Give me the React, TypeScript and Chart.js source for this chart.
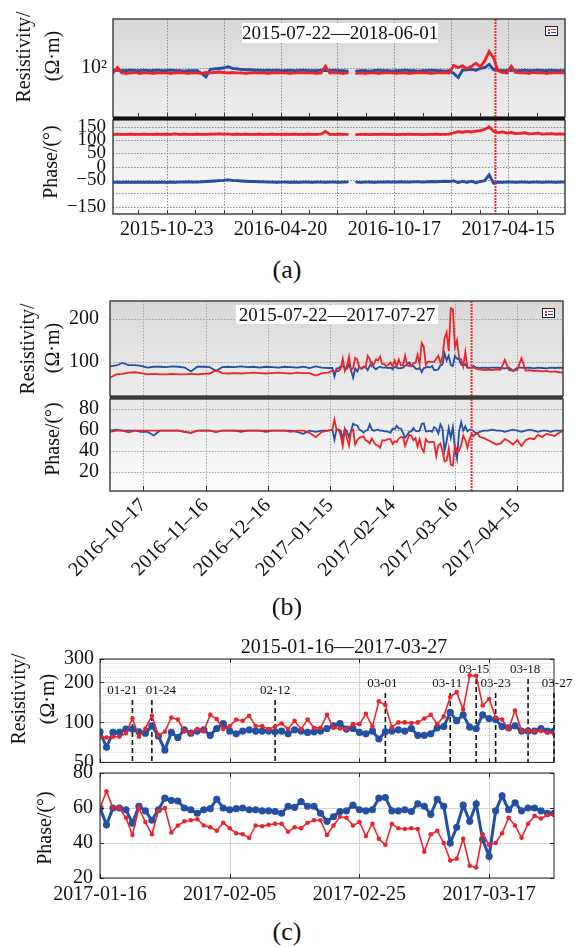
import React, { useEffect, useRef } from 'react';
import { Chart, registerables } from 'chart.js';

Chart.register(...registerables);

const W = 575;
const RED = '#e8262b';
const BLUE = '#2350a3';
const SERIF = "'Liberation Serif', 'Times New Roman', Times, serif";
const DAY_MS = 86400000;
const dn = (s: string) => {
  const [y, m, d] = s.split('-').map(Number);
  return Date.UTC(y, m - 1, d) / DAY_MS;
};
const fmt = (n: number) => new Date(Math.round(n) * DAY_MS).toISOString().slice(0, 10);
const stepDays = (start: string, step: number, count: number) =>
  Array.from({ length: count }, (_, i) => dn(start) + i * step);

// ---------------- Panel (a) data: weekly samples from 2015-07-30 ----------------
const aStart = '2015-07-30';
const aStepDays = 7;
const aRange = ['2015-07-30', '2017-07-14'];
const aEvent = '2017-03-26';
const aLabelDates = ['2015-10-23', '2016-04-20', '2016-10-17', '2017-04-15'];
const aResRed: (number | null)[] = [
  89, 101, 89, 88, 89, 90, 88, 89, 89, 88, 89, 89,
  89, 88, 89, 90, 89, 88, 89, 89, 88, 90, 89,
  90, 91, 90, 89, 90, 89, 89, 88, 89, 90, 89, 89, 88,
  89, 89, 90, 89, 88, 89, 89, 90, 89, 89, 88, 89, 104, 89, 90, 89, 88, 89,
  null,
  88, 89, 88, 89, 89, 88, 89, 90, 89, 88, 89, 89, 88, 89, 90, 89, 89, 88, 89, 89, 90, 89,
  106, 101, 105, 98, 104, 112, 103, 118, 147, 127,
  94, 90, 89, 104, 90, 89, 89, 88, 90, 89, 89, 88, 89, 89, 90, 89,
];
const aResBlue: (number | null)[] = [
  94, 95, 94, 94, 95, 94, 94, 95, 94, 94, 95, 94,
  94, 95, 94, 94, 93, 94, 94, 94, 88, 81, 97,
  98, 99, 100, 103, 99, 98, 97, 96, 96, 95, 95, 94, 95,
  94, 95, 94, 94, 95, 94, 94, 95, 94, 94, 94, 95, 94, 94, 95, 94, 94, 93,
  null,
  93, 94, 94, 93, 94, 95, 94, 94, 93, 94, 94, 95, 94, 94, 93, 94, 94, 95, 94, 94, 93, 94,
  88, 80, 95, 96, 97, 95, 99, 101, 109, 96,
  95, 94, 94, 95, 94, 94, 95, 94, 94, 95, 94, 94, 95, 94, 94, 94,
];
const aPhRed: (number | null)[] = [
  121, 122, 121, 121, 122, 121, 121, 122, 121, 121, 122, 121,
  122, 121, 123, 121, 122, 121, 121, 122, 121, 121, 122,
  122, 123, 122, 122, 121, 122, 121, 122, 121, 121, 122, 121, 121,
  122, 121, 121, 122, 121, 122, 121, 121, 122, 121, 121, 122, 132, 121, 121, 122, 121, 121,
  null,
  120, 121, 121, 120, 121, 121, 122, 121, 121, 120, 121, 121, 122, 121, 121, 120, 121, 121, 122, 121, 121, 122,
  127, 131, 129, 132, 130, 133, 135, 140, 149, 133,
  128, 130, 126, 128, 124, 125, 127, 123, 124, 126, 122, 123, 124, 122, 123, 122,
];
const aPhBlue: (number | null)[] = [
  -59, -58, -59, -58, -59, -59, -58, -59, -58, -59, -59, -58,
  -59, -58, -59, -58, -58, -57, -58, -58, -57, -56, -55,
  -54, -53, -52, -50, -52, -53, -54, -55, -56, -56, -57, -57, -58,
  -58, -59, -58, -58, -59, -58, -59, -58, -58, -59, -58, -58, -59, -58, -58, -59, -58, -58,
  null,
  -58, -59, -58, -58, -59, -58, -58, -57, -58, -58, -57, -58, -58, -57, -57, -58, -57, -56, -57, -56, -55, -56,
  -54, -60, -56, -59, -55, -61, -56, -53, -31, -62,
  -58, -59, -58, -58, -59, -58, -58, -59, -58, -58, -59, -58, -58, -59, -58, -58,
];
const aResTicks = [100];
const aResLabels = ['10²'];
const aPhaseTicks = [-150, -100, -50, 0, 50, 100, 150];
const aPhaseLabels = ['−150', '', '−50', '0', '50', '100', '150'];

// ---------------- Panel (c) data: daily 2017-01-16 .. 2017-03-27 ----------------
const cStart = '2017-01-16';
const cRange = ['2017-01-16', '2017-03-27'];
const cLabelDates = ['2017-01-16', '2017-02-05', '2017-02-25', '2017-03-17'];
const cResRed = [
  78, 77, 78, 78, 83, 107, 78, 90, 112, 80,
  85, 109, 105, 86, 83, 89, 86, 114, 106, 89,
  94, 105, 103, 112, 94, 94, 89, 93, 98, 89,
  103, 89, 105, 91, 91, 114, 91, 90, 89, 97,
  97, 116, 93, 144, 135, 92, 100, 100, 99, 100,
  107, 114, 97, 111, 155, 169, 125, 226, 224, 134,
  150, 109, 105, 89, 123, 86, 86, 86, 86, 84, 82,
];
const cResBlue = [
  85, 65, 84, 84, 89, 89, 85, 83, 94, 79,
  62, 84, 77, 88, 83, 86, 88, 80, 90, 98,
  86, 82, 86, 88, 86, 86, 86, 85, 86, 82,
  88, 86, 84, 85, 86, 90, 94, 98, 89, 90,
  84, 82, 86, 75, 85, 86, 88, 86, 90, 80,
  80, 82, 91, 93, 119, 103, 114, 92, 90, 114,
  107, 105, 93, 91, 94, 86, 86, 86, 90, 86, 86,
];
const cPhRed = [
  60, 69.6, 60, 60, 54.4, 44.6, 60, 52, 45, 58.4,
  60, 46, 50, 52.4, 53, 53.6, 50, 49, 47, 51.6,
  48.4, 45.6, 45, 43, 50, 49.6, 50.4, 51, 51, 46.4,
  49, 48.4, 51.6, 53, 53, 44.6, 50, 55, 54.4, 50,
  52, 44, 51, 42.4, 39, 51, 48.4, 48, 48.4, 48,
  35, 45, 47, 40, 30, 31, 42.4, 27, 26, 45,
  39, 40, 45.6, 54.4, 50, 43, 51, 55.6, 54, 56, 56,
];
const cPhBlue = [
  60, 50.4, 60, 60, 59, 51.4, 61, 58.4, 53, 59,
  65.6, 64.4, 64, 60, 59, 57, 59, 59.6, 65, 60,
  59, 59.6, 60, 59, 59, 58.4, 58.4, 58, 57, 61,
  60.4, 63.6, 61, 61, 57, 52.4, 55, 58, 58.4, 61.6,
  59, 58.4, 59, 65.6, 66, 58.4, 58.4, 59, 58, 62.4,
  61, 56.4, 65, 61, 40, 49, 61.6, 52.4, 62.4, 42,
  32.4, 58.4, 67, 59, 63, 58.4, 60, 60, 58.4, 57, 57,
];
const cResTicks = [50, 100, 200, 300];
const cResMinor = [60, 70, 80, 90, 120, 140, 160, 180, 220, 240, 260, 280];
const cPhaseTicks = [20, 40, 60, 80];
const cEventDates = ['2017-01-21', '2017-01-24', '2017-02-12', '2017-03-01', '2017-03-11', '2017-03-15', '2017-03-18', '2017-03-23', '2017-03-27'];
const cEventLabels = ['01-21', '01-24', '02-12', '03-01', '03-11', '03-15', '03-23', '03-18', '03-27'];

// ---------------- Panel (b) data ----------------
const bRange = ['2016-10-01', '2017-05-07'];
const bEvent = '2017-03-24';
const bLabelDates = ['2016-10-17', '2016-11-16', '2016-12-16', '2017-01-15', '2017-02-14', '2017-03-16', '2017-04-15'];
const bPreStart = '2016-10-01'; // every 3 days
const bPreResRed = [62, 70, 71, 74, 75, 73, 70, 71, 70, 70, 71, 70, 70, 71, 70, 71, 72, 80, 73, 72, 73, 72, 73, 74, 73, 72, 73, 74, 73, 72, 74, 73, 73, 67, 73, 74];
const bPreResBlue = [89, 91, 97, 92, 92, 90, 86, 88, 88, 87, 89, 88, 86, 77, 88, 88, 87, 78, 87, 88, 87, 89, 87, 88, 86, 88, 87, 86, 88, 87, 86, 88, 85, 89, 86, 85];
const bPrePhRed = [58, 59, 59, 57.5, 59, 59, 59, 59, 59, 59, 59, 59, 58, 57, 59, 59, 59, 58, 59, 59, 59, 59, 59, 59, 59, 59, 59, 59, 59, 58, 59, 59, 57, 53, 58, 59];
const bPrePhBlue = [59, 60, 59, 59, 59, 58, 58, 54.5, 59, 59, 59, 59, 58, 57, 59, 59, 59, 58, 59, 59, 59, 58, 59, 59, 59, 58, 59, 59, 59, 59, 58, 56, 59, 58, 59, 59];
const bPostStart = '2017-03-28'; // every 2 days
const bPostResRed = [82, 80, 81, 80, 82, 81, 104, 80, 79, 80, 108, 79, 80, 78, 79, 77, 78, 76, 77, 75, 74];
const bPostResBlue = [85, 86, 85, 86, 86, 85, 84, 86, 78, 86, 86, 85, 86, 84, 86, 85, 84, 86, 85, 86, 85];
const bPostPhRed = [53, 52, 50, 48, 46, 47, 51, 49, 46, 50, 44.6, 50, 52, 51, 55, 53, 56, 55, 54, 57, 59];
const bPostPhBlue = [58, 59, 59, 60, 59, 59, 58, 59, 60, 59, 58, 59, 60, 59, 58, 59, 59, 58, 59, 59, 59];
const bResTicks = [100, 200];
const bPhaseTicks = [20, 40, 60, 80];

// ---------------- layout constants (not data) ----------------
const cMarkerLayout = [
  { dy: 32, dx: -10 }, { dy: 32, dx: 9 }, { dy: 32, dx: 0 }, { dy: 25, dx: -3 }, { dy: 25, dx: -3 },
  { dy: 11, dx: -2 }, { dy: 25, dx: 0 }, { dy: 11, dx: -3 }, { dy: 25, dx: 3 },
];

// ---------------- plugin ----------------
const decoPlugin: any = {
  id: 'deco',
  beforeDraw(chart: any, _a: any, o: any) {
    const { ctx, chartArea: ca } = chart;
    if (!o || !o.bg) return;
    const g = ctx.createLinearGradient(0, ca.top, 0, ca.bottom);
    g.addColorStop(0, o.bg[0]);
    g.addColorStop(1, o.bg[1]);
    ctx.save();
    ctx.fillStyle = g;
    ctx.fillRect(ca.left, ca.top, ca.right - ca.left, ca.bottom - ca.top);
    ctx.restore();
  },
  beforeDatasetsDraw(chart: any, _a: any, o: any) {
    const { ctx, chartArea: ca, scales } = chart;
    ctx.save();
    for (const g of o.grids || []) {
      ctx.strokeStyle = g.color;
      ctx.lineWidth = g.width ?? 1;
      ctx.setLineDash(g.dash ?? []);
      for (const v of g.values) {
        ctx.beginPath();
        if (g.axis === 'x') {
          const p = Math.round(scales.x.getPixelForValue(v)) + 0.5;
          ctx.moveTo(p, ca.top);
          ctx.lineTo(p, ca.bottom);
        } else {
          const p = Math.round(scales.y.getPixelForValue(v)) + 0.5;
          ctx.moveTo(ca.left, p);
          ctx.lineTo(ca.right, p);
        }
        ctx.stroke();
      }
    }
    if (o.markers) {
      const m = o.markers;
      ctx.font = `${m.size}px ${SERIF}`;
      ctx.textAlign = 'center';
      ctx.textBaseline = 'middle';
      m.items.forEach((it: any) => {
        const p = scales.x.getPixelForValue(it.x);
        ctx.setLineDash(m.dash);
        ctx.lineWidth = m.width;
        ctx.strokeStyle = m.color;
        ctx.beginPath();
        ctx.moveTo(p, ca.top + it.dy + m.gap);
        ctx.lineTo(p, ca.bottom);
        ctx.stroke();
        ctx.fillStyle = m.color;
        ctx.fillText(it.text, p + it.dx, ca.top + it.dy);
      });
    }
    ctx.restore();
  },
  afterDatasetsDraw(chart: any, _a: any, o: any) {
    const { ctx, chartArea: ca, scales } = chart;
    ctx.save();
    for (const l of o.vlines || []) {
      const p = scales.x.getPixelForValue(l.x);
      ctx.strokeStyle = l.color;
      ctx.lineWidth = l.width;
      ctx.setLineDash(l.dash || []);
      ctx.beginPath();
      ctx.moveTo(p, ca.top);
      ctx.lineTo(p, ca.bottom);
      ctx.stroke();
    }
    ctx.setLineDash([]);
    for (const t of o.ticks || []) {
      ctx.strokeStyle = t.color;
      ctx.lineWidth = t.width ?? 1;
      for (const v of t.values) {
        ctx.beginPath();
        if (t.axis === 'x') {
          const p = Math.round(scales.x.getPixelForValue(v)) + 0.5;
          if (t.edges.includes('bottom')) { ctx.moveTo(p, ca.bottom); ctx.lineTo(p, ca.bottom - t.len); }
          if (t.edges.includes('top')) { ctx.moveTo(p, ca.top); ctx.lineTo(p, ca.top + t.len); }
        } else {
          const p = Math.round(scales.y.getPixelForValue(v)) + 0.5;
          if (t.edges.includes('left')) { ctx.moveTo(ca.left, p); ctx.lineTo(ca.left + t.len, p); }
          if (t.edges.includes('right')) { ctx.moveTo(ca.right, p); ctx.lineTo(ca.right - t.len, p); }
        }
        ctx.stroke();
      }
    }
    if (o.border) {
      ctx.strokeStyle = o.border.color;
      ctx.lineWidth = o.border.width;
      ctx.strokeRect(ca.left, ca.top, ca.right - ca.left, ca.bottom - ca.top);
    }
    ctx.restore();
  },
};

type Area = { left: number; right: number; top: number; bottom: number };

function line(days: number[], vals: (number | null)[], color: string, width: number, radius: number) {
  return {
    data: days.map((x, i) => ({ x, y: vals[i] })),
    borderColor: color,
    backgroundColor: color,
    pointBackgroundColor: color,
    borderWidth: width,
    pointRadius: radius,
    pointHoverRadius: radius,
    pointBorderWidth: 0,
    tension: 0,
    spanGaps: false,
    fill: false,
  };
}

type PlotSpec = { top: number; height: number; config: any };

function makePlot(p: {
  canvasTop: number; canvasBottom: number; area: Area;
  xMin: number; xMax: number; xTicks?: number[]; xFmt?: (v: number) => string; rot?: number; xPad?: number;
  yType: 'linear' | 'logarithmic'; yMin: number; yMax: number; yTicks: number[]; yLabels: string[]; yPad: number; yFont?: number;
  datasets: any[]; deco: any;
}): PlotSpec {
  const padBottom = p.canvasBottom - p.area.bottom;
  const config = {
    type: 'line',
    data: { datasets: p.datasets },
    plugins: [decoPlugin],
    options: {
      responsive: false,
      maintainAspectRatio: false,
      animation: false,
      devicePixelRatio: 1,
      events: [],
      layout: { padding: { top: p.area.top - p.canvasTop, right: W - p.area.right, left: 0, bottom: 0 } },
      plugins: { legend: { display: false }, tooltip: { enabled: false }, title: { display: false }, deco: p.deco },
      scales: {
        x: {
          type: 'linear', min: p.xMin, max: p.xMax,
          grid: { display: false, drawTicks: false }, border: { display: false },
          afterFit: (s: any) => { s.height = padBottom; s.paddingLeft = 0; s.paddingRight = 0; s.paddingTop = 0; s.paddingBottom = 0; },
          afterBuildTicks: (s: any) => { s.ticks = (p.xTicks || [p.xMin]).map((v) => ({ value: v })); },
          ticks: {
            display: !!p.xTicks, autoSkip: false, maxRotation: p.rot ?? 0, minRotation: p.rot ?? 0,
            padding: p.xPad ?? 4, color: '#111', font: { family: SERIF, size: 20 },
            callback: (v: number) => (p.xFmt ? p.xFmt(v) : ''),
          },
        },
        y: {
          type: p.yType, min: p.yMin, max: p.yMax,
          grid: { display: false, drawTicks: false }, border: { display: false },
          afterFit: (s: any) => { s.width = p.area.left; s.paddingTop = 0; s.paddingBottom = 0; s.paddingLeft = 0; s.paddingRight = 0; },
          afterBuildTicks: (s: any) => { s.ticks = p.yTicks.map((v) => ({ value: v })); },
          ticks: {
            autoSkip: false, padding: p.yPad, color: '#111', font: { family: SERIF, size: p.yFont ?? 20 },
            callback: (_v: number, i: number) => p.yLabels[i],
          },
        },
      },
    },
  };
  return { top: p.canvasTop, height: p.canvasBottom - p.canvasTop, config };
}

function Plot({ spec }: { spec: PlotSpec }) {
  const ref = useRef<HTMLCanvasElement>(null);
  useEffect(() => {
    const chart = new Chart(ref.current as HTMLCanvasElement, spec.config);
    return () => chart.destroy();
  }, []);
  return <canvas ref={ref} width={W} height={spec.height} style={{ position: 'absolute', left: 0, top: spec.top, width: W, height: spec.height }} />;
}

const VText = ({ cx, cy, text, size = 20 }: { cx: number; cy: number; text: string; size?: number }) => (
  <div style={{ position: 'absolute', left: cx, top: cy, transform: 'translate(-50%, -50%) rotate(-90deg)', whiteSpace: 'nowrap', font: `${size}px ${SERIF}`, lineHeight: 1, color: '#111' }}>{text}</div>
);
const HText = ({ cx, cy, text, size = 20 }: { cx: number; cy: number; text: string; size?: number }) => (
  <div style={{ position: 'absolute', left: cx, top: cy, transform: 'translate(-50%, -50%)', whiteSpace: 'nowrap', font: `${size}px ${SERIF}`, lineHeight: 1, color: '#111' }}>{text}</div>
);
const LegendIcon = ({ left, top }: { left: number; top: number }) => (
  <div style={{ position: 'absolute', left, top, width: 13, height: 10, border: '1px solid #222', background: '#fff', boxSizing: 'border-box' }}>
    <div style={{ position: 'absolute', left: 1.5, top: 1.5, width: 2, height: 2, background: RED }} />
    <div style={{ position: 'absolute', left: 5, top: 2, width: 5, height: 1, background: RED }} />
    <div style={{ position: 'absolute', left: 1.5, top: 4.5, width: 2, height: 2, background: BLUE }} />
    <div style={{ position: 'absolute', left: 5, top: 5, width: 5, height: 1, background: BLUE }} />
  </div>
);

// ---------------- build series ----------------
const aDays = stepDays(aStart, aStepDays, aResRed.length);
const cDays = stepDays(cStart, 1, cResRed.length);
const bDays = [
  ...stepDays(bPreStart, 3, bPreResRed.length),
  ...cDays,
  ...stepDays(bPostStart, 2, bPostResRed.length),
];
const bResRed = [...bPreResRed, ...cResRed, ...bPostResRed];
const bResBlue = [...bPreResBlue, ...cResBlue, ...bPostResBlue];
const bPhRed = [...bPrePhRed, ...cPhRed, ...bPostPhRed];
const bPhBlue = [...bPrePhBlue, ...cPhBlue, ...bPostPhBlue];

const GRID_AB = '#8a8a8a';
const aGrid = stepDays('2015-10-23', 90, 7);
const aMinor = stepDays('2015-09-08', 45, 15);
const bGrid = bLabelDates.map(dn);
const cGrid = cLabelDates.map(dn);

const A_TOP: Area = { left: 113, right: 565, top: 19, bottom: 117 };
const A_BOT: Area = { left: 113, right: 565, top: 120, bottom: 214 };
const B_TOP: Area = { left: 110, right: 563, top: 301, bottom: 396 };
const B_BOT: Area = { left: 110, right: 563, top: 399, bottom: 491 };
const C_TOP: Area = { left: 100, right: 554, top: 659, bottom: 764 };
const C_BOT: Area = { left: 100, right: 554, top: 773, bottom: 878 };

const plotATop = makePlot({
  canvasTop: 5, canvasBottom: 119, area: A_TOP,
  xMin: dn(aRange[0]), xMax: dn(aRange[1]),
  yType: 'logarithmic', yMin: Math.pow(10, 1.5), yMax: Math.pow(10, 2.5), yTicks: aResTicks, yLabels: aResLabels, yPad: 6,
  datasets: [line(aDays, aResRed, RED, 2.8, 1.3), line(aDays, aResBlue, BLUE, 2.8, 1.3)],
  deco: {
    bg: ['#d8d8d8', '#ededed'],
    grids: [
      { axis: 'x', values: aGrid, color: GRID_AB, dash: [1.5, 1.5] },
      { axis: 'y', values: aResTicks, color: GRID_AB, dash: [1.5, 1.5] },
    ],
    vlines: [{ x: dn(aEvent), color: '#ee2a2a', width: 2, dash: [2, 1] }],
    ticks: [{ axis: 'x', values: aMinor, len: 4, edges: ['bottom'], color: '#333' }],
    border: { color: '#444', width: 1.5 },
  },
});

const plotABot = makePlot({
  canvasTop: 106, canvasBottom: 250, area: A_BOT,
  xMin: dn(aRange[0]), xMax: dn(aRange[1]), xTicks: aLabelDates.map(dn), xFmt: fmt, xPad: 4,
  yType: 'linear', yMin: -178, yMax: 175, yTicks: aPhaseTicks, yLabels: aPhaseLabels, yPad: 7, yFont: 19,
  datasets: [line(aDays, aPhRed, RED, 2.8, 1.3), line(aDays, aPhBlue, BLUE, 2.8, 1.3)],
  deco: {
    bg: ['#e6e6e6', '#fdfdfd'],
    grids: [
      { axis: 'x', values: aGrid, color: GRID_AB, dash: [1.5, 1.5] },
      { axis: 'y', values: aPhaseTicks, color: GRID_AB, dash: [1.5, 1.5] },
    ],
    vlines: [{ x: dn(aEvent), color: '#ee2a2a', width: 2, dash: [2, 1] }],
    ticks: [{ axis: 'x', values: aMinor, len: 4, edges: ['bottom'], color: '#333' }],
    border: { color: '#444', width: 1.5 },
  },
});

const plotBTop = makePlot({
  canvasTop: 288, canvasBottom: 398, area: B_TOP,
  xMin: dn(bRange[0]), xMax: dn(bRange[1]),
  yType: 'linear', yMin: 19, yMax: 243, yTicks: bResTicks, yLabels: bResTicks.map(String), yPad: 11,
  datasets: [line(bDays, bResRed, RED, 1.8, 0), line(bDays, bResBlue, BLUE, 1.8, 0)],
  deco: {
    bg: ['#d8d8d8', '#ededed'],
    grids: [
      { axis: 'x', values: bGrid, color: '#a0a0a0', dash: [1.5, 1.5] },
      { axis: 'y', values: bResTicks, color: '#a0a0a0', dash: [1.5, 1.5] },
    ],
    vlines: [{ x: dn(bEvent), color: '#ee2a2a', width: 2, dash: [2, 1] }],
    border: { color: '#444', width: 1.5 },
  },
});

const plotBBot = makePlot({
  canvasTop: 386, canvasBottom: 590, area: B_BOT,
  xMin: dn(bRange[0]), xMax: dn(bRange[1]), xTicks: bLabelDates.map(dn), xFmt: (v) => fmt(v).replace(/-/g, '–'), rot: 45, xPad: 3,
  yType: 'linear', yMin: 2, yMax: 89, yTicks: bPhaseTicks, yLabels: bPhaseTicks.map(String), yPad: 11,
  datasets: [line(bDays, bPhRed, RED, 1.8, 0), line(bDays, bPhBlue, BLUE, 1.8, 0)],
  deco: {
    bg: ['#e6e6e6', '#fdfdfd'],
    grids: [
      { axis: 'x', values: bGrid, color: '#a0a0a0', dash: [1.5, 1.5] },
      { axis: 'y', values: bPhaseTicks, color: '#a0a0a0', dash: [1.5, 1.5] },
    ],
    vlines: [{ x: dn(bEvent), color: '#ee2a2a', width: 2, dash: [2, 1] }],
    ticks: [{ axis: 'x', values: bGrid, len: 5, edges: ['bottom'], color: '#222' }],
    border: { color: '#444', width: 1.5 },
  },
});

const plotCTop = makePlot({
  canvasTop: 645, canvasBottom: 766, area: C_TOP,
  xMin: dn(cRange[0]), xMax: dn(cRange[1]),
  yType: 'logarithmic', yMin: 50, yMax: 300, yTicks: cResTicks, yLabels: cResTicks.map(String), yPad: 6,
  datasets: [line(cDays, cResRed, RED, 1.6, 2.3), line(cDays, cResBlue, BLUE, 3, 3.6)],
  deco: {
    grids: [
      { axis: 'y', values: cResMinor, color: '#cfcfcf', dash: [1, 1.5] },
      { axis: 'y', values: cResTicks, color: '#d4d4d4' },
      { axis: 'x', values: cGrid, color: '#d4d4d4' },
    ],
    markers: {
      size: 13, color: '#111', dash: [5, 3], width: 1.6, gap: 9,
      items: cEventDates.map((d, i) => ({ x: dn(d), text: cEventLabels[i], dy: cMarkerLayout[i].dy, dx: cMarkerLayout[i].dx })),
    },
    ticks: [
      { axis: 'x', values: cGrid, len: 4, edges: ['bottom', 'top'], color: '#222' },
      { axis: 'y', values: cResTicks, len: 4, edges: ['left', 'right'], color: '#222' },
    ],
    border: { color: '#222', width: 1 },
  },
});

const plotCBot = makePlot({
  canvasTop: 762, canvasBottom: 915, area: C_BOT,
  xMin: dn(cRange[0]), xMax: dn(cRange[1]), xTicks: cLabelDates.map(dn), xFmt: fmt, xPad: 5,
  yType: 'linear', yMin: 20, yMax: 80, yTicks: cPhaseTicks, yLabels: cPhaseTicks.map(String), yPad: 7,
  datasets: [line(cDays, cPhRed, RED, 1.6, 2.3), line(cDays, cPhBlue, BLUE, 3, 3.6)],
  deco: {
    grids: [
      { axis: 'y', values: cPhaseTicks, color: '#d4d4d4' },
      { axis: 'x', values: cGrid, color: '#d4d4d4' },
    ],
    ticks: [
      { axis: 'x', values: cGrid, len: 4, edges: ['bottom', 'top'], color: '#222' },
      { axis: 'y', values: cPhaseTicks, len: 4, edges: ['left', 'right'], color: '#222' },
    ],
    border: { color: '#222', width: 1 },
  },
});

export default function App() {
  return (
    <div style={{ position: 'absolute', left: 0, top: 0, width: W, height: 947, background: '#fff', overflow: 'hidden' }}>
      <Plot spec={plotATop} />
      <Plot spec={plotABot} />
      <Plot spec={plotBTop} />
      <Plot spec={plotBBot} />
      <Plot spec={plotCTop} />
      <Plot spec={plotCBot} />

      {/* dividers between stacked panels */}
      <div style={{ position: 'absolute', left: 113, top: 117, width: 452, height: 3, background: '#111' }} />
      <div style={{ position: 'absolute', left: 110, top: 396, width: 453, height: 3, background: '#3a3a3a' }} />

      {/* in-plot date-range boxes and legend icons */}
      <div style={{ position: 'absolute', left: 242, top: 23, width: 196, height: 20, background: '#fff', font: `19px ${SERIF}`, lineHeight: '20px', textAlign: 'center', whiteSpace: 'nowrap', color: '#111' }}>2015-07-22—2018-06-01</div>
      <LegendIcon left={545} top={26} />
      <div style={{ position: 'absolute', left: 236, top: 305, width: 202, height: 19, background: '#fff', font: `19px ${SERIF}`, lineHeight: '19px', textAlign: 'center', whiteSpace: 'nowrap', color: '#111' }}>2015-07-22—2017-07-27</div>
      <LegendIcon left={542} top={308} />

      {/* title of (c) */}
      <HText cx={344} cy={646} text="2015-01-16—2017-03-27" size={20} />

      {/* axis titles */}
      <VText cx={23} cy={57} text="Resistivity/" />
      <VText cx={52} cy={56} text="(Ω·m)" />
      <VText cx={50} cy={162} text="Phase/(°)" />
      <VText cx={27} cy={349} text="Resistivity/" />
      <VText cx={52} cy={348} text="(Ω·m)" />
      <VText cx={52} cy={439} text="Phase/(°)" />
      <VText cx={18} cy={699} text="Resistivity/" />
      <VText cx={47} cy={699} text="(Ω·m)" />
      <VText cx={44} cy={828} text="Phase/(°)" />

      {/* panel letters */}
      <HText cx={287} cy={270} text="(a)" size={26} />
      <HText cx={287} cy={607} text="(b)" size={26} />
      <HText cx={287} cy={932} text="(c)" size={26} />
    </div>
  );
}
